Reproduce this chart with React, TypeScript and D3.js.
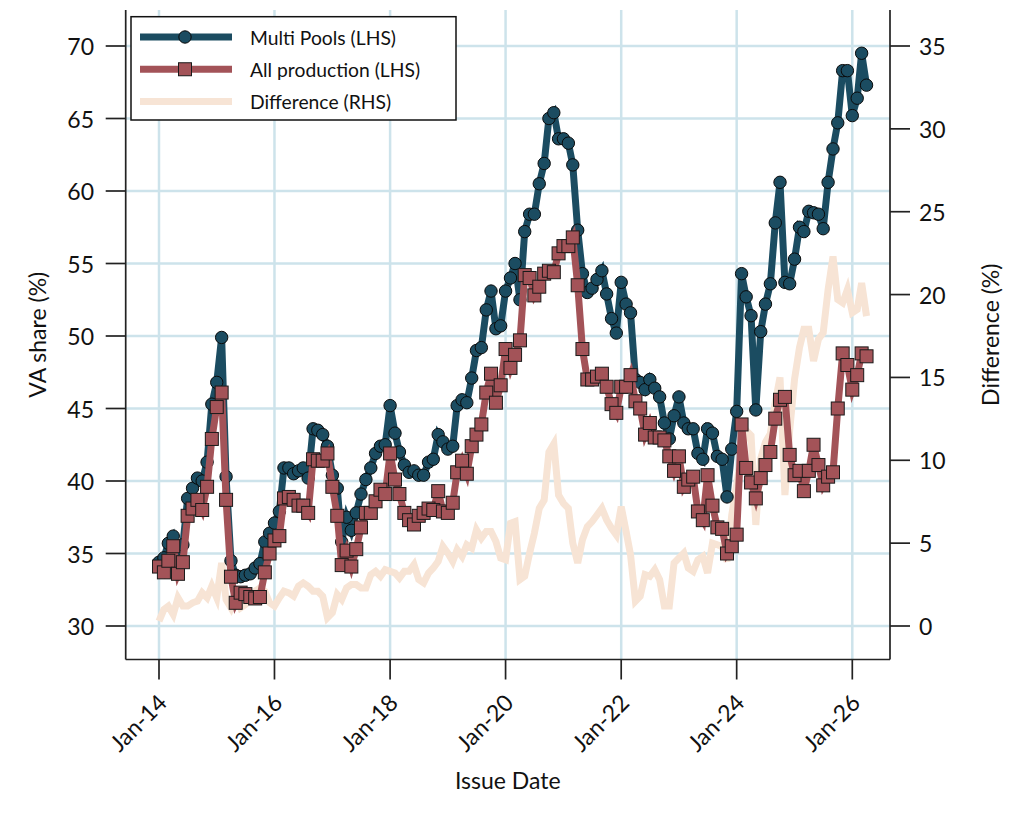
import React, { useEffect, useRef } from 'react';
import * as d3 from 'd3';

// Monthly values, Jan-14 .. Apr-26
const multiPools = [
  34.4, 34.7, 35.7, 36.2, 35.3, 35.6, 38.8, 39.5, 40.2, 40.0, 41.3, 45.3,
  46.8, 49.9, 40.3, 34.5, 33.5, 33.4, 33.5, 33.6, 34.0, 34.3, 35.8, 36.4,
  37.1, 37.9, 40.9, 40.9, 40.5, 40.7, 40.9, 40.2, 43.6, 43.5, 43.2, 42.4,
  40.4, 39.5, 35.8, 37.5, 36.6, 37.8, 39.1, 40.1, 40.9, 41.9, 42.4, 42.5,
  45.2, 43.3, 42.0, 41.1, 40.6, 40.7, 40.4, 40.4, 41.3, 41.5, 43.2, 42.7,
  42.2, 42.4, 45.2, 45.6, 45.4, 47.1, 49.0, 49.2, 51.8, 53.1, 50.5, 50.7,
  53.1, 54.0, 55.0, 52.5, 57.2, 58.4, 58.4, 60.5, 61.9, 65.0, 65.4, 63.6,
  63.6, 63.3, 61.8, 57.3, 54.3, 53.0, 53.3, 53.9, 54.5, 52.9, 51.2, 50.2,
  53.7, 52.2, 51.6, 47.0, 46.8, 46.3, 47.0, 46.4, 45.8, 44.0, 42.9, 44.5,
  45.8, 44.0, 43.6, 43.6, 41.9, 41.5, 43.6, 43.3, 41.7, 41.5, 38.9, 42.2,
  44.8, 54.3, 52.7, 51.4, 44.9, 50.3, 52.2, 53.6, 57.8, 60.6, 53.7, 53.6,
  55.3, 57.5, 57.2, 58.6, 58.5, 58.4, 57.4, 60.6, 62.9, 64.7, 68.3, 68.3,
  65.2, 66.4, 69.5, 67.3
];

const allProduction = [
  34.1, 33.7, 34.5, 35.5, 33.6, 34.4, 37.6, 38.1, 38.7, 38.0, 39.6, 42.9,
  45.1, 46.1, 38.7, 33.4, 31.6, 32.3, 32.2, 32.0, 31.9, 32.0, 33.7, 35.0,
  35.9, 36.2, 38.8, 38.9, 38.7, 38.3, 38.3, 37.8, 41.5, 41.4, 41.4, 41.9,
  39.6, 37.6, 34.2, 35.2, 34.1, 35.3, 36.8, 37.8, 37.8, 38.6, 39.4, 39.1,
  41.9, 40.1, 39.1, 37.8, 37.3, 37.0, 37.6, 37.8, 38.1, 38.0, 39.3, 37.9,
  37.8, 38.5, 40.6, 41.4, 40.5, 42.4, 43.2, 43.9, 46.1, 47.4, 45.4, 46.6,
  49.1, 47.8, 48.7, 49.7, 54.2, 54.0, 52.8, 53.4, 54.3, 54.5, 54.4, 55.7,
  56.2, 56.2, 56.8, 53.5, 49.1, 47.0, 47.0, 47.2, 47.4, 46.5, 45.3, 44.7,
  46.5, 46.5, 47.3, 45.5, 45.0, 43.2, 44.0, 43.0, 43.0, 42.8, 41.7, 40.7,
  41.7, 39.6, 40.1, 40.3, 37.9, 37.3, 40.4, 38.3, 36.8, 36.7, 35.0, 35.5,
  36.3, 43.9, 40.9, 39.9, 38.8, 40.2, 41.1, 42.0, 44.3, 45.6, 45.8, 41.8,
  40.4, 40.7, 39.3, 40.7, 42.5, 41.1, 39.7, 40.3, 40.6, 45.0, 48.8, 48.0,
  46.3, 47.3, 48.8, 48.6
];

const difference = [
  0.3, 1.0, 1.2, 0.7, 1.7, 1.2, 1.2, 1.4, 1.5, 2.0, 1.7, 2.4,
  1.7, 3.8, 1.6, 1.1, 1.9, 1.1, 1.3, 1.6, 2.1, 2.3, 2.1, 1.4,
  1.2, 1.7, 2.1, 2.0, 1.8, 2.4, 2.6, 2.4, 2.1, 2.1, 1.8, 0.5,
  0.8, 1.9, 1.6, 2.3, 2.5, 2.5, 2.3, 2.3, 3.1, 3.3, 3.0, 3.4,
  3.3, 3.2, 2.9, 3.3, 3.3, 3.7, 2.8, 2.6, 3.2, 3.5, 3.9, 4.8,
  4.4, 3.9, 4.6, 4.2, 4.9, 4.7, 5.8, 5.3, 5.7, 5.7, 5.1, 4.1,
  4.0, 6.2, 6.3, 2.8, 3.0, 4.4, 5.6, 7.1, 7.6, 10.5, 11.0, 7.9,
  7.4, 7.1, 5.0, 3.8, 5.2, 6.0, 6.3, 6.7, 7.1, 6.4, 5.9, 5.5,
  7.2, 5.7, 4.3, 1.5, 1.8, 3.1, 3.0, 3.4, 2.8, 1.2, 1.2, 3.8,
  4.1, 4.4, 3.5, 3.3, 4.0, 4.2, 3.2, 5.0, 4.9, 4.8, 3.9, 6.7,
  8.5, 10.4, 11.8, 11.5, 6.1, 10.1, 11.1, 11.6, 13.5, 15.0, 7.9, 11.8,
  14.9, 16.8, 17.9, 17.9, 16.0, 17.3, 17.7, 20.3, 22.3, 19.7, 19.5, 20.3,
  18.9, 19.1, 20.7, 18.7
];

const leftTicks = [30, 35, 40, 45, 50, 55, 60, 65, 70];
const rightTicks = [0, 5, 10, 15, 20, 25, 30, 35];
const legendLabels = ['Multi Pools (LHS)', 'All production (LHS)', 'Difference (RHS)'];

const FONT = 'Lato, "Open Sans", sans-serif';
const BLUE = '#1b4c61';
const RED = '#a35358';
const BEIGE = '#f7e4d5';
const GRID = '#cde3eb';

export default function App() {
  const ref = useRef<SVGSVGElement>(null);

  useEffect(() => {
    if (!ref.current) return;
    const W = 1024;
    const H = 819;
    const left = 125.7, right = 890, top = 10, bottom = 659.5;

    const svg = d3.select(ref.current);
    svg.selectAll('*').remove();
    svg.attr('width', W).attr('height', H);

    const months = multiPools.map((_, i) => new Date(2014, i, 1));

    const x = d3.scaleTime()
      .domain([new Date(2014, 0, 1), new Date(2026, 0, 1)])
      .range([159, 852.3]);
    const yL = d3.scaleLinear().domain([30, 70]).range([626, 46]);
    const yR = d3.scaleLinear().domain([0, 35]).range([626, 46]);

    const xTicks = d3.timeYear.every(2)!.range(new Date(2014, 0, 1), new Date(2026, 1, 1));
    const fmt = d3.timeFormat('%b-%y');

    // grid
    const grid = svg.append('g');
    grid.selectAll('line.h')
      .data(leftTicks)
      .enter()
      .append('line')
      .attr('x1', left).attr('x2', right)
      .attr('y1', d => yL(d)).attr('y2', d => yL(d))
      .attr('stroke', GRID).attr('stroke-width', 2.5);
    grid.selectAll('line.v')
      .data(xTicks)
      .enter()
      .append('line')
      .attr('x1', d => x(d)).attr('x2', d => x(d))
      .attr('y1', top).attr('y2', bottom)
      .attr('stroke', GRID).attr('stroke-width', 2.5);

    // axes lines and ticks
    const ax = svg.append('g').attr('stroke', '#222').attr('stroke-width', 1.7);
    ax.append('line').attr('x1', left).attr('x2', left).attr('y1', top).attr('y2', bottom);
    ax.append('line').attr('x1', right).attr('x2', right).attr('y1', top).attr('y2', bottom);
    ax.append('line').attr('x1', left).attr('x2', right).attr('y1', bottom).attr('y2', bottom);
    ax.selectAll('line.lt').data(leftTicks).enter().append('line')
      .attr('x1', left - 20).attr('x2', left)
      .attr('y1', d => yL(d)).attr('y2', d => yL(d));
    ax.selectAll('line.rt').data(rightTicks).enter().append('line')
      .attr('x1', right).attr('x2', right + 20)
      .attr('y1', d => yR(d)).attr('y2', d => yR(d));
    ax.selectAll('line.xt').data(xTicks).enter().append('line')
      .attr('x1', d => x(d)).attr('x2', d => x(d))
      .attr('y1', bottom).attr('y2', bottom + 20);

    const lbl = svg.append('g').attr('font-family', FONT).attr('fill', '#111');
    lbl.selectAll('text.l').data(leftTicks).enter().append('text')
      .attr('x', 94).attr('y', d => yL(d))
      .attr('text-anchor', 'end').attr('dominant-baseline', 'central')
      .attr('font-size', 23).text(d => d);
    lbl.selectAll('text.r').data(rightTicks).enter().append('text')
      .attr('x', 919).attr('y', d => yR(d))
      .attr('text-anchor', 'start').attr('dominant-baseline', 'central')
      .attr('font-size', 23).text(d => d);
    lbl.selectAll('text.x').data(xTicks).enter().append('text')
      .attr('transform', d => `translate(${x(d) + 3},${698}) rotate(-45)`)
      .attr('text-anchor', 'end').attr('dominant-baseline', 'central')
      .attr('font-size', 23).text(d => fmt(d));

    lbl.append('text')
      .attr('x', (left + right) / 2).attr('y', 780)
      .attr('text-anchor', 'middle').attr('dominant-baseline', 'central')
      .attr('font-size', 23).text('Issue Date');
    lbl.append('text')
      .attr('transform', `translate(37,${(top + bottom) / 2}) rotate(-90)`)
      .attr('text-anchor', 'middle').attr('dominant-baseline', 'central')
      .attr('font-size', 23).text('VA share (%)');
    lbl.append('text')
      .attr('transform', `translate(990,${(top + bottom) / 2}) rotate(-90)`)
      .attr('text-anchor', 'middle').attr('dominant-baseline', 'central')
      .attr('font-size', 23).text('Difference (%)');

    // series
    const lineL = d3.line<number>().x((_, i) => x(months[i])).y(d => yL(d));
    const lineR = d3.line<number>().x((_, i) => x(months[i])).y(d => yR(d));

    svg.append('path').datum(difference)
      .attr('d', lineR).attr('fill', 'none')
      .attr('stroke', BEIGE).attr('stroke-width', 7);

    svg.append('path').datum(multiPools)
      .attr('d', lineL).attr('fill', 'none')
      .attr('stroke', BLUE).attr('stroke-width', 7);
    svg.append('g').selectAll('circle')
      .data(multiPools).enter().append('circle')
      .attr('cx', (_, i) => x(months[i])).attr('cy', d => yL(d))
      .attr('r', 6.2).attr('fill', BLUE)
      .attr('stroke', '#0a0a0a').attr('stroke-width', 1);

    const s = 13;
    svg.append('path').datum(allProduction)
      .attr('d', lineL).attr('fill', 'none')
      .attr('stroke', RED).attr('stroke-width', 7);
    svg.append('g').selectAll('rect')
      .data(allProduction).enter().append('rect')
      .attr('x', (_, i) => x(months[i]) - s / 2).attr('y', d => yL(d) - s / 2)
      .attr('width', s).attr('height', s).attr('fill', RED)
      .attr('stroke', '#1a1a1a').attr('stroke-width', 1);

    // legend
    const lg = svg.append('g');
    lg.append('rect')
      .attr('x', 131).attr('y', 16.7).attr('width', 325).attr('height', 103.3)
      .attr('fill', '#fff').attr('stroke', '#111').attr('stroke-width', 1.5);
    const colors = [BLUE, RED, BEIGE];
    const rowY = d3.scalePoint<string>().domain(legendLabels).range([37, 101.5]);
    legendLabels.forEach((name, k) => {
      const yy = rowY(name)!;
      lg.append('line').attr('x1', 140).attr('x2', 232).attr('y1', yy).attr('y2', yy)
        .attr('stroke', colors[k]).attr('stroke-width', 7);
      if (k === 0) {
        lg.append('circle').attr('cx', 185).attr('cy', yy).attr('r', 6.2)
          .attr('fill', BLUE).attr('stroke', '#0a0a0a').attr('stroke-width', 1);
      } else if (k === 1) {
        lg.append('rect').attr('x', 185 - s / 2).attr('y', yy - s / 2)
          .attr('width', s).attr('height', s)
          .attr('fill', RED).attr('stroke', '#1a1a1a').attr('stroke-width', 1);
      }
      lg.append('text').attr('x', 250).attr('y', yy)
        .attr('dominant-baseline', 'central')
        .attr('font-family', FONT).attr('font-size', 19.3).attr('fill', '#111')
        .text(name);
    });
  }, []);

  return (
    <svg ref={ref} style={{ position: 'absolute', left: 0, top: 0, background: '#fff' }} />
  );
}
